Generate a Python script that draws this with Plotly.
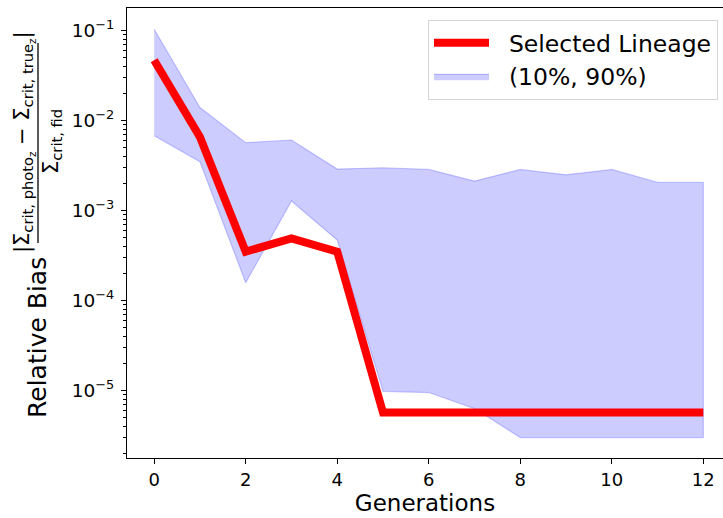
import plotly.graph_objects as go

generations = [0, 1, 2, 3, 4, 5, 6, 7, 8, 9, 10, 11, 12]
selected_lineage = [4.7e-2, 6.6e-3, 3.5e-4, 4.9e-4, 3.5e-4, 5.7e-6, 5.7e-6, 5.7e-6, 5.7e-6, 5.7e-6, 5.7e-6, 5.7e-6, 5.7e-6]
p90 = [1.04e-1, 1.4e-2, 5.7e-3, 6.1e-3, 2.9e-3, 3.0e-3, 2.87e-3, 2.13e-3, 2.87e-3, 2.5e-3, 2.87e-3, 2.06e-3, 2.06e-3]
p10 = [6.8e-3, 3.5e-3, 1.58e-4, 1.28e-3, 4.7e-4, 9.8e-6, 9.5e-6, 6.3e-6, 3.0e-6, 3.0e-6, 3.0e-6, 3.0e-6, 3.0e-6]
x_ticks = [0, 2, 4, 6, 8, 10, 12]
y_ticks = [1e-5, 1e-4, 1e-3, 1e-2, 1e-1]
y_ticktext = ["10<sup>−5</sup>", "10<sup>−4</sup>", "10<sup>−3</sup>", "10<sup>−2</sup>", "10<sup>−1</sup>"]

W, H = 723, 518
L, R, T, B = 127, 0, 8, 60
pw, ph = W - L - R, H - T - B


def px(x):
    return (x - L) / pw


def py(y):
    return (H - B - y) / ph


FONT = "DejaVu Sans"
NB = "\u00a0"

fig = go.Figure()
fig.add_trace(go.Scatter(
    x=generations + generations[::-1],
    y=p90 + p10[::-1],
    fill="toself",
    fillcolor="rgba(0,0,255,0.2)",
    line=dict(color="rgba(0,0,255,0.2)", width=1.2),
    mode="lines",
    name=NB * 2 + "(10%, 90%)",
    legendrank=2,
    hoverinfo="skip",
))
fig.add_trace(go.Scatter(
    x=generations,
    y=selected_lineage,
    mode="lines",
    line=dict(color="red", width=8),
    name=NB * 2 + "Selected Lineage",
    legendrank=1,
))

fig.update_layout(
    width=W, height=H,
    margin=dict(l=L, r=R, t=T, b=B, pad=0),
    paper_bgcolor="white",
    plot_bgcolor="white",
    font=dict(family=FONT, color="black", size=18),
    showlegend=True,
    legend=dict(
        x=px(718), y=py(20), xanchor="right", yanchor="top",
        bgcolor="white", bordercolor="#d6d6d6", borderwidth=1,
        font=dict(size=23.5, family=FONT),
        itemwidth=55,
        tracegroupgap=0,
    ),
    xaxis=dict(
        range=[-0.594, 12.43],
        tickvals=x_ticks,
        ticks="outside", ticklen=5, tickwidth=1.1, tickcolor="black",
        showline=True, linecolor="black", linewidth=1.1, mirror=True,
        showgrid=False, zeroline=False,
        tickfont=dict(size=18),
        title=dict(text="Generations", font=dict(size=23), standoff=4),
    ),
    yaxis=dict(
        type="log",
        range=[-5.75, -0.747],
        tickvals=y_ticks, ticktext=y_ticktext,
        ticks="outside", ticklen=5, tickwidth=1.1, tickcolor="black",
        showline=True, linecolor="black", linewidth=1.1, mirror=False,
        showgrid=False, zeroline=False,
        tickfont=dict(size=18.5),
        ticklabelstandoff=3,
        minor=dict(ticks="outside", ticklen=2.5, tickwidth=0.8, tickcolor="black", dtick="D1", showgrid=False),
    ),
)

# y-axis title built from text pieces (mathtext fraction)
fig.add_annotation(
    xref="paper", yref="paper", x=px(37), y=py(338),
    text="Relative Bias", textangle=-90, showarrow=False,
    font=dict(size=25, family=FONT), xanchor="center", yanchor="middle",
)
fig.add_annotation(
    xref="paper", yref="paper", x=px(24), y=py(142),
    text="|Σ<sub>crit, photo<sub>z</sub></sub> − Σ<sub>crit, true<sub>z</sub></sub>|",
    textangle=-90, showarrow=False,
    font=dict(size=21, family=FONT), xanchor="center", yanchor="middle",
)
fig.add_annotation(
    xref="paper", yref="paper", x=px(52), y=py(141),
    text="Σ<sub>crit, fid</sub>",
    textangle=-90, showarrow=False,
    font=dict(size=21, family=FONT), xanchor="center", yanchor="middle",
)
fig.add_shape(
    type="line", xref="paper", yref="paper",
    x0=px(38), x1=px(38), y0=py(43), y1=py(243),
    line=dict(color="black", width=1.3),
)

fig.write_html(
    "out.html",
    config={"displayModeBar": False},
    post_script="document.body.style.margin='0';document.body.style.overflow='hidden';",
)
